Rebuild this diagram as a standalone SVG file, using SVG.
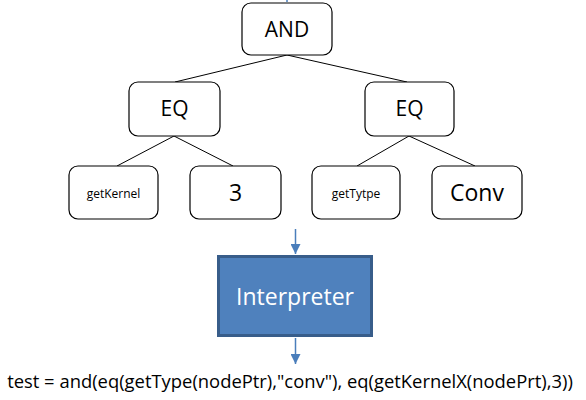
<svg xmlns="http://www.w3.org/2000/svg" width="586" height="400" viewBox="0 0 586 400">
<defs>
<style>
.node{fill:#fff;stroke:#000;stroke-width:1.2}
.t{font-family:"Open Sans","Liberation Sans",sans-serif;fill:#000;text-anchor:middle}
.edge{stroke:#000;stroke-width:1;fill:none}
.arr{stroke:#4A7EBB;stroke-width:1.5;fill:none}
</style>
<marker id="ah2" markerWidth="12" markerHeight="10" refX="10" refY="5" orient="auto" markerUnits="userSpaceOnUse">
<path d="M0,0 L10,5 L0,10 Z" fill="#4A7EBB"/>
</marker>
</defs>
<g id="connectors">
<line class="arr" x1="287" y1="0" x2="287" y2="2"/>
<line class="edge" x1="287" y1="55" x2="175" y2="82"/>
<line class="edge" x1="287" y1="55" x2="407" y2="82"/>
<line class="edge" x1="174" y1="136" x2="117" y2="166"/>
<line class="edge" x1="174" y1="136" x2="233" y2="166"/>
<line class="edge" x1="409" y1="136" x2="357" y2="166"/>
<line class="edge" x1="409" y1="136" x2="475" y2="166"/>
<line class="arr" x1="295.5" y1="229" x2="295.5" y2="254" marker-end="url(#ah2)"/>
<line class="arr" x1="295.5" y1="338" x2="295.5" y2="364" marker-end="url(#ah2)"/>
</g>
<g id="and">
<rect class="node" x="242" y="3" width="90" height="52" rx="9"/>
<text class="t" x="287" y="37" font-size="21">AND</text>
</g>
<g id="eq-left">
<rect class="node" x="129" y="82" width="91" height="54" rx="9"/>
<text class="t" x="174.5" y="116" font-size="21">EQ</text>
</g>
<g id="eq-right">
<rect class="node" x="365" y="82" width="89" height="54" rx="9"/>
<text class="t" x="409.5" y="116" font-size="21">EQ</text>
</g>
<g id="getkernel">
<rect class="node" x="69" y="166" width="89" height="53" rx="9"/>
<text class="t" x="113.5" y="198" font-size="12">getKernel</text>
</g>
<g id="three">
<rect class="node" x="190" y="166" width="91" height="53" rx="9"/>
<text class="t" x="235.5" y="201" font-size="23">3</text>
</g>
<g id="gettytpe">
<rect class="node" x="312" y="166" width="88" height="53" rx="9"/>
<text class="t" x="356" y="198" font-size="12">getTytpe</text>
</g>
<g id="conv">
<rect class="node" x="432" y="166" width="90" height="53" rx="9"/>
<text class="t" x="477" y="201" font-size="23">Conv</text>
</g>
<g id="interpreter">
<rect x="218.5" y="256.5" width="153" height="79" fill="#4F81BD" stroke="#385D8A" stroke-width="3"/>
<text class="t" x="295" y="305" font-size="23" style="fill:#fff">Interpreter</text>
</g>
<text x="290" y="388" font-family="Open Sans, Liberation Sans, sans-serif" font-size="18.4" text-anchor="middle" fill="#000">test = and(eq(getType(nodePtr),"conv"), eq(getKernelX(nodePrt),3))</text>
</svg>
